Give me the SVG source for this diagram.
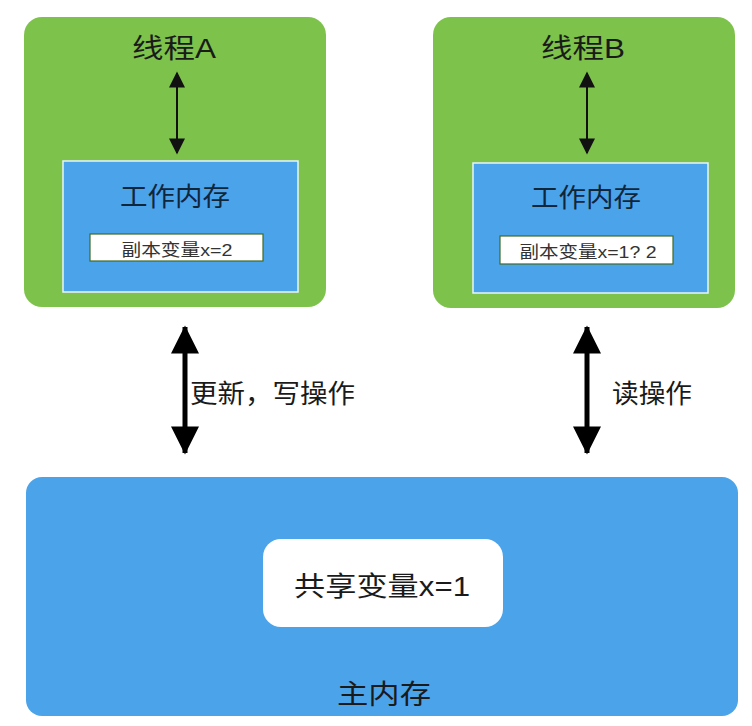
<svg xmlns="http://www.w3.org/2000/svg" width="752" height="726" viewBox="0 0 752 726">
<defs>
<style>
.thread{fill:#7dc24b;}
.work{fill:#4ba3ea;stroke:#e8f4ff;stroke-width:1.5;}
.sub{fill:#ffffff;stroke:#3f6a2a;stroke-width:1.2;}
.main{fill:#4ba3ea;}
.shared{fill:#ffffff;}
.t{font-family:"Liberation Sans","Noto Sans CJK SC",sans-serif;fill:#1a1a1a;text-anchor:middle;}
.title{font-size:27px;}
.wt{font-size:26px;fill:#10263a;}
.st{font-size:17px;fill:#333;}
.lbl{font-size:26px;text-anchor:start;}
.thin{stroke:#111;stroke-width:2;fill:none;}
.thick{stroke:#000;stroke-width:5;fill:none;}
</style>
<marker id="ah" viewBox="0 0 10 10" refX="9" refY="5" markerWidth="17" markerHeight="16" markerUnits="userSpaceOnUse" orient="auto-start-reverse">
<path d="M0,0 L10,5 L0,10 z" fill="#111"/>
</marker>
<marker id="ahb" viewBox="0 0 10 10" refX="9.5" refY="5" markerWidth="33" markerHeight="28" markerUnits="userSpaceOnUse" orient="auto-start-reverse">
<path d="M0,0 L10,5 L0,10 z" fill="#000"/>
</marker>
</defs>
<rect width="752" height="726" fill="#ffffff"/>

<g id="threadA">
<rect class="thread" x="24" y="17" width="302" height="290" rx="18"/>
<text class="t title" x="174" y="58" textLength="84" lengthAdjust="spacingAndGlyphs">线程A</text>
<g id="workA">
<rect class="work" x="63" y="161" width="235" height="131"/>
<text class="t wt" x="175" y="206" textLength="110" lengthAdjust="spacingAndGlyphs">工作内存</text>
<rect class="sub" x="90" y="234" width="173" height="27"/>
<text class="t st" x="177" y="256" textLength="111" lengthAdjust="spacingAndGlyphs">副本变量x=2</text>
</g>
</g>

<g id="threadB">
<rect class="thread" x="433" y="17" width="302" height="291" rx="18"/>
<text class="t title" x="583" y="58" textLength="84" lengthAdjust="spacingAndGlyphs">线程B</text>
<g id="workB">
<rect class="work" x="473" y="163" width="235" height="130"/>
<text class="t wt" x="586" y="207" textLength="110" lengthAdjust="spacingAndGlyphs">工作内存</text>
<rect class="sub" x="500" y="236" width="173" height="28"/>
<text class="t st" x="588" y="258" textLength="137" lengthAdjust="spacingAndGlyphs">副本变量x=1? 2</text>
</g>
</g>

<g id="mainMemory">
<rect class="main" x="26" y="477" width="712" height="239" rx="16"/>
<g id="shared">
<rect class="shared" x="263" y="539" width="240" height="88" rx="18"/>
<text class="t title" x="382" y="596" textLength="176" lengthAdjust="spacingAndGlyphs">共享变量x=1</text>
</g>
<text class="t title" x="384" y="704" textLength="94" lengthAdjust="spacingAndGlyphs">主内存</text>
</g>

<g id="connectors">
<line class="thin" x1="177" y1="73" x2="177" y2="153" marker-start="url(#ah)" marker-end="url(#ah)"/>
<line class="thin" x1="587" y1="73" x2="587" y2="153" marker-start="url(#ah)" marker-end="url(#ah)"/>
<line class="thick" x1="185" y1="327" x2="185" y2="453" marker-start="url(#ahb)" marker-end="url(#ahb)"/>
<line class="thick" x1="587" y1="327" x2="587" y2="453" marker-start="url(#ahb)" marker-end="url(#ahb)"/>
<text class="t lbl" x="190" y="403" textLength="165" lengthAdjust="spacingAndGlyphs">更新，写操作</text>
<text class="t lbl" x="612" y="403" textLength="80" lengthAdjust="spacingAndGlyphs">读操作</text>
</g>
</svg>
